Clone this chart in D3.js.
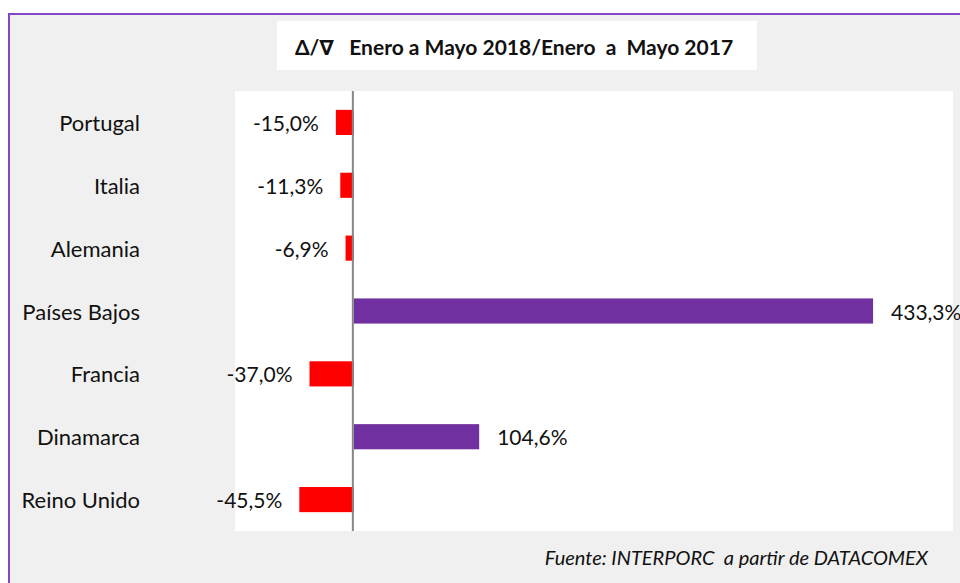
<!DOCTYPE html>
<html>
<head>
<meta charset="utf-8">
<script src="https://cdn.jsdelivr.net/npm/d3@7"></script>
<style>
  html, body { margin: 0; padding: 0; background: #ffffff; }
  svg { display: block; }
  text { font-family: Lato, "Open Sans", "DejaVu Sans", sans-serif; fill: #111; }
</style>
</head>
<body>
<svg id="chart" width="960" height="583"></svg>
<script>
// Variación Enero–Mayo 2018 frente a Enero–Mayo 2017, por país de destino
const countries = ["Portugal", "Italia", "Alemania", "Países Bajos", "Francia", "Dinamarca", "Reino Unido"];
const changePct = [-15.0, -11.3, -6.9, 433.3, -37.0, 104.6, -45.5];
const xDomain = [-100, 500];
const titleText = "\u0394/\u2207   Enero a Mayo 2018/Enero  a  Mayo 2017";
const sourceText = "Fuente: INTERPORC  a partir de DATACOMEX";

const rows = countries.map((c, i) => ({ country: c, value: changePct[i] }));

const svg = d3.select("#chart");
const W = 960, H = 583;

// Outer frame with light grey fill
svg.append("rect")
  .attr("x", 9).attr("y", 14)
  .attr("width", W + 20).attr("height", H + 20)
  .attr("fill", "#f0f0f0")
  .attr("stroke", "#8446c6")
  .attr("stroke-width", 2);

// Title box
svg.append("rect")
  .attr("x", 277).attr("y", 21)
  .attr("width", 480).attr("height", 49)
  .attr("fill", "#ffffff");
svg.append("text")
  .attr("x", 514).attr("y", 46)
  .attr("text-anchor", "middle")
  .attr("dominant-baseline", "central")
  .attr("font-size", 21)
  .attr("font-weight", "bold")
  .style("white-space", "pre")
  .text(titleText);

// Plot area
const plot = { left: 235, right: 953, top: 91, bottom: 531 };
svg.append("rect")
  .attr("x", plot.left).attr("y", plot.top)
  .attr("width", plot.right - plot.left).attr("height", plot.bottom - plot.top)
  .attr("fill", "#ffffff");

const x = d3.scaleLinear().domain(xDomain).range([plot.left - 1, plot.right]);
const y = d3.scaleBand()
  .domain(countries)
  .range([plot.top, plot.bottom])
  .paddingInner(0.6)
  .paddingOuter(0.3);

const locale = d3.formatLocale({
  decimal: ",", thousands: ".", grouping: [3], currency: ["", " €"], minus: "-"
});
const fmt = v => locale.format(".1f")(v) + "%";

// Bars
svg.append("g").selectAll("rect")
  .data(rows)
  .join("rect")
  .attr("x", d => x(Math.min(0, d.value)))
  .attr("y", d => y(d.country))
  .attr("width", d => Math.abs(x(d.value) - x(0)))
  .attr("height", y.bandwidth())
  .attr("fill", d => d.value < 0 ? "#ff0000" : "#7030a0");

// Zero axis line
svg.append("g")
  .attr("transform", `translate(${x(0) - 1},0)`)
  .call(d3.axisLeft(y).tickSize(0).tickFormat(""))
  .call(g => g.select(".domain")
    .attr("d", `M0,${plot.top}V${plot.bottom}`)
    .attr("stroke", "#868686")
    .attr("stroke-width", 2));

// Category labels
svg.append("g").selectAll("text")
  .data(rows)
  .join("text")
  .attr("x", 140)
  .attr("y", d => y(d.country) + y.bandwidth() / 2)
  .attr("text-anchor", "end")
  .attr("dominant-baseline", "central")
  .attr("font-size", 22)
  .text(d => d.country);

// Value labels
svg.append("g").selectAll("text")
  .data(rows)
  .join("text")
  .attr("x", d => d.value < 0 ? x(d.value) - 17 : x(d.value) + 18)
  .attr("y", d => y(d.country) + y.bandwidth() / 2)
  .attr("text-anchor", d => d.value < 0 ? "end" : "start")
  .attr("dominant-baseline", "central")
  .attr("font-size", 21)
  .text(d => fmt(d.value));

// Source note
svg.append("text")
  .attr("x", 928).attr("y", 557)
  .attr("text-anchor", "end")
  .attr("dominant-baseline", "central")
  .attr("font-size", 20)
  .attr("font-style", "italic")
  .style("white-space", "pre")
  .text(sourceText);
</script>
</body>
</html>
